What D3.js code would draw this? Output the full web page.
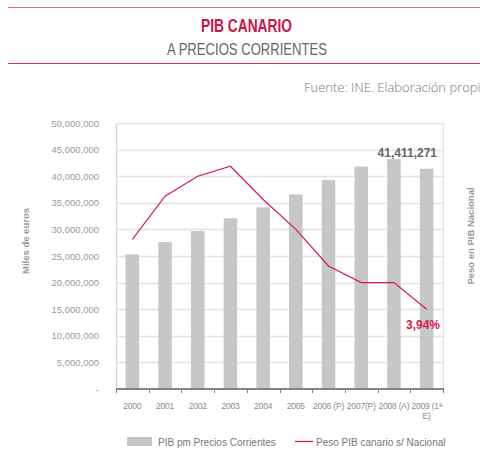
<!DOCTYPE html>
<html>
<head>
<meta charset="utf-8">
<script src="https://cdn.jsdelivr.net/npm/d3@7"></script>
<style>
  body { margin: 0; background: #fff; }
  text { font-family: "Liberation Sans", Arial, sans-serif; }
</style>
</head>
<body>
<div id="chart"></div>
<script>
// data
const years = ["2000", "2001", "2002", "2003", "2004", "2005", "2006 (P)", "2007(P)", "2008 (A)", "2009 (1ª E)"];
const pib = [25300000, 27600000, 29700000, 32100000, 34150000, 36600000, 39300000, 41800000, 43200000, 41411271];
const peso = [4.15, 4.28, 4.34, 4.37, 4.27, 4.18, 4.07, 4.02, 4.02, 3.94];
const leftTicks = [0, 5000000, 10000000, 15000000, 20000000, 25000000, 30000000, 35000000, 40000000, 45000000, 50000000];

((() => {
  let width = 480, height = 450;
  let red = "#d91a48";

  let svg = d3.select("#chart").append("svg")
    .attr("width", width).attr("height", height);

  // header
  svg.append("line").attr("x1", 8).attr("x2", 480).attr("y1", 7.5).attr("y2", 7.5)
    .attr("stroke", "#e26a86").attr("stroke-width", 1.2);
  svg.append("line").attr("x1", 8).attr("x2", 480).attr("y1", 63.5).attr("y2", 63.5)
    .attr("stroke", "#e0284f").attr("stroke-width", 1.2);
  // condensed look via textLength (no narrow font available)
  svg.append("text").attr("x", 201).attr("y", 32)
    .attr("textLength", 91).attr("lengthAdjust", "spacingAndGlyphs")
    .style("font-family", "'Liberation Sans', Arial, sans-serif")
    .style("font-size", "19px").style("font-weight", "bold").attr("fill", "#cc1544")
    .text("PIB CANARIO");
  svg.append("text").attr("x", 167).attr("y", 55)
    .attr("textLength", 160).attr("lengthAdjust", "spacingAndGlyphs")
    .style("font-family", "'Liberation Sans', Arial, sans-serif")
    .style("font-size", "17px").attr("fill", "#666")
    .text("A PRECIOS CORRIENTES");
  svg.append("text").attr("x", 304).attr("y", 92).attr("fill", "#777")
    .style("font-size", "13px").style("font-family", "'Open Sans', 'Liberation Sans', sans-serif")
    .style("font-weight", 300)
    .text("Fuente: INE. Elaboración propia");

  let m = { left: 116, right: 443, top: 123, bottom: 389 };

  let x = d3.scaleBand().domain(years).range([m.left, m.right]);
  let y = d3.scaleLinear().domain([0, 50000000]).range([m.bottom, m.top]);
  let y2 = d3.scaleLinear().domain([3.7, 4.5]).range([m.bottom, m.top]);

  // grid
  svg.append("g").selectAll("line").data(leftTicks.slice(1)).enter().append("line")
    .attr("x1", m.left).attr("x2", m.right)
    .attr("y1", d => Math.round(y(d)) + 0.5).attr("y2", d => Math.round(y(d)) + 0.5)
    .attr("stroke", "#e3e3e3").attr("stroke-width", 1.3);
  svg.append("line").attr("x1", m.left + 0.5).attr("x2", m.left + 0.5).attr("y1", m.top).attr("y2", m.bottom)
    .attr("stroke", "#d8d8d8").attr("stroke-width", 1.3);
  svg.append("line").attr("x1", m.right + 0.5).attr("x2", m.right + 0.5).attr("y1", m.top).attr("y2", m.bottom)
    .attr("stroke", "#e3e3e3").attr("stroke-width", 1.3);

  // left axis labels
  let fmt = d3.format(",");
  svg.append("g").selectAll("text").data(leftTicks).enter().append("text")
    .attr("x", 99).attr("y", d => y(d) + 3.5).attr("text-anchor", "end")
    .attr("fill", "#9a9a9a").style("font-size", "9.5px")
    .text(d => d === 0 ? "-" : fmt(d));

  // bars
  let bw = 13.5;
  svg.append("g").selectAll("rect").data(pib).enter().append("rect")
    .attr("x", (d, i) => x(years[i]) + x.bandwidth() / 2 - bw / 2)
    .attr("width", bw)
    .attr("y", d => y(d))
    .attr("height", d => y(0) - y(d))
    .attr("fill", "#c6c7c9");

  // x axis
  svg.append("line").attr("x1", m.left).attr("x2", m.right + 1).attr("y1", m.bottom).attr("y2", m.bottom)
    .attr("stroke", "#858585").attr("stroke-width", 2);
  svg.append("g").selectAll("line").data(years.concat(["end"])).enter().append("line")
    .attr("x1", (d, i) => Math.round(m.left + i * x.bandwidth()) + 0.5)
    .attr("x2", (d, i) => Math.round(m.left + i * x.bandwidth()) + 0.5)
    .attr("y1", m.bottom).attr("y2", m.bottom + 4)
    .attr("stroke", "#858585").attr("stroke-width", 1);

  let xl = svg.append("g").selectAll("text").data(years).enter().append("text")
    .attr("x", d => x(d) + x.bandwidth() / 2)
    .attr("y", 409).attr("text-anchor", "middle")
    .attr("fill", "#8a8a8a").style("font-size", "8.5px")
    .style("letter-spacing", "-0.2px");
  xl.each(function(d) {
    let t = d3.select(this);
    if (d === "2009 (1ª E)") {
      t.append("tspan").attr("x", x(d) + x.bandwidth() / 2).text("2009 (1ª");
      t.append("tspan").attr("x", x(d) + x.bandwidth() / 2).attr("dy", 10).text("E)");
    } else {
      t.text(d);
    }
  });

  // line
  let line = d3.line()
    .x((d, i) => x(years[i]) + x.bandwidth() / 2)
    .y(d => y2(d));
  svg.append("path").datum(peso).attr("d", line)
    .attr("fill", "none").attr("stroke", red).attr("stroke-width", 1.2);

  // data labels
  let last = years.length - 1;
  svg.append("text").attr("x", 437).attr("y", 157).attr("text-anchor", "end")
    .attr("fill", "#666").style("font-size", "12px").style("font-weight", "bold")
    .text(fmt(pib[last]));
  svg.append("text").attr("x", 440).attr("y", 329).attr("text-anchor", "end")
    .attr("fill", red).style("font-size", "12px").style("font-weight", "bold")
    .text(d3.format(".2f")(peso[last]).replace(".", ",") + "%");

  // axis titles
  svg.append("text").attr("transform", "translate(29,241) rotate(-90)")
    .attr("text-anchor", "middle").attr("fill", "#9a9a9a")
    .style("font-size", "9.5px").style("font-weight", "bold")
    .text("Miles de euros");
  svg.append("text").attr("transform", "translate(474,236) rotate(-90)")
    .attr("text-anchor", "middle").attr("fill", "#9a9a9a")
    .style("font-size", "9.5px").style("font-weight", "bold")
    .text("Peso en PIB Nacional");

  // legend
  let legend = svg.append("g").attr("class", "legend");
  legend.append("rect").attr("x", 127).attr("y", 437).attr("width", 25).attr("height", 9).attr("fill", "#c6c7c9");
  legend.append("text").attr("x", 158).attr("y", 445.5).attr("fill", "#777").style("font-size", "10px")
    .text("PIB pm Precios Corrientes");
  legend.append("line").attr("x1", 295).attr("x2", 313).attr("y1", 441.5).attr("y2", 441.5)
    .attr("stroke", red).attr("stroke-width", 1.3);
  legend.append("text").attr("x", 316).attr("y", 445.5).attr("fill", "#777").style("font-size", "10px")
    .text("Peso PIB canario s/ Nacional");
})());
</script>
</body>
</html>
